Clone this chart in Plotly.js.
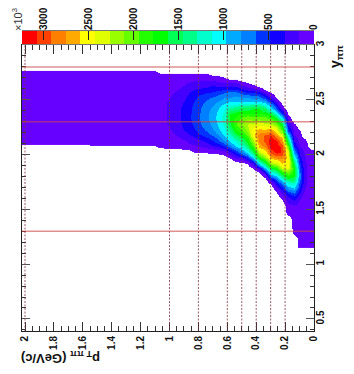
<!DOCTYPE html>
<html>
<head>
<meta charset="utf-8">
<script src="https://cdn.plot.ly/plotly-3.0.1.min.js"></script>
<style>html,body{margin:0;padding:0;background:#fff}</style>
</head>
<body>
<div id="chart" style="width:354px;height:374px"></div>
<script>
// counts per pT bin (0.04 wide, starting at 0), each list runs over y from 1.175 to 2.775
const o = -150; // empty bin
const countsByPt = [
  [80,80,80,80,80,80,80,80,80,80,80,80,80,80,80,80,80,80,-100,o,o,o,o,o,o,o,o,o,o,o,o,o,o],
  [80,80,80,80,80,80,80,80,80,80,130,180,200,200,190,180,170,130,100,60,-120,o,o,o,o,o,o,o,o,o,o,o,o],
  [80,80,80,80,80,80,80,100,140,250,400,560,700,720,640,520,400,280,170,110,80,10,o,o,o,o,o,o,o,o,o,o,o],
  [o,o,20,80,80,80,80,110,300,520,800,1150,1500,1700,1750,1500,1150,800,500,300,170,100,60,o,o,o,o,o,o,o,o,o,o],
  [o,o,o,o,o,-60,80,100,200,350,700,1050,1500,1950,2400,2550,2500,2350,2000,1500,1050,550,320,170,-40,o,o,o,o,o,o,o,o],
  [o,o,o,o,o,o,o,o,-20,100,280,600,1050,1650,2300,2600,2800,3050,3050,2750,2450,1950,1650,1150,550,100,-60,o,o,o,o,o,o],
  [o,o,o,o,o,o,o,o,o,-80,40,300,650,1150,1750,2350,2800,3150,3200,3100,2750,2450,2050,1700,1100,600,220,-60,o,o,o,o,o],
  [o,o,o,o,o,o,o,o,o,o,o,-30,300,1000,1550,2250,2650,3000,3180,3200,3080,2700,2300,1950,1550,1000,600,200,-60,o,o,o,o],
  [o,o,o,o,o,o,o,o,o,o,o,o,-100,200,900,1550,2150,2500,2800,2950,2950,2620,2350,2050,1750,1400,950,500,80,o,o,o,o],
  [o,o,o,o,o,o,o,o,o,o,o,o,o,-80,200,1100,1800,2300,2650,2800,2850,2650,2400,2050,1800,1600,1050,700,350,-60,o,o,o],
  [o,o,o,o,o,o,o,o,o,o,o,o,o,o,-10,300,1000,1500,1900,2200,2500,2500,2350,2050,1750,1600,1050,750,400,60,o,o,o],
  [o,o,o,o,o,o,o,o,o,o,o,o,o,o,o,30,500,1050,1450,1700,1950,2200,2280,2100,1800,1500,1050,780,420,100,-80,o,o],
  [o,o,o,o,o,o,o,o,o,o,o,o,o,o,o,-20,280,800,1150,1450,1700,1950,2100,2000,1800,1500,1020,800,500,200,-30,o,o],
  [o,o,o,o,o,o,o,o,o,o,o,o,o,o,o,-60,200,500,950,1200,1500,1800,1950,1850,1700,1400,1000,850,650,300,40,o,o],
  [o,o,o,o,o,o,o,o,o,o,o,o,o,o,o,o,20,300,700,1000,1200,1400,1600,1650,1620,1300,1000,800,650,300,40,o,o],
  [o,o,o,o,o,o,o,o,o,o,o,o,o,o,o,o,-80,100,480,800,1000,1120,1200,1250,1200,1100,950,800,600,300,80,-50,o],
  [o,o,o,o,o,o,o,o,o,o,o,o,o,o,o,o,-120,60,350,620,820,960,1020,1050,1040,980,870,720,540,300,110,-20,o],
  [o,o,o,o,o,o,o,o,o,o,o,o,o,o,o,o,-130,40,280,480,660,800,860,900,900,850,760,650,480,340,170,-10,o],
  [o,o,o,o,o,o,o,o,o,o,o,o,o,o,o,o,o,30,210,370,560,680,750,780,780,740,680,620,440,300,170,40,o],
  [o,o,o,o,o,o,o,o,o,o,o,o,o,o,o,o,o,20,170,300,470,590,650,670,670,650,620,540,410,280,170,50,o],
  [o,o,o,o,o,o,o,o,o,o,o,o,o,o,o,o,o,30,130,240,380,490,540,570,570,560,520,470,380,260,160,50,o],
  [o,o,o,o,o,o,o,o,o,o,o,o,o,o,o,o,o,-50,110,200,310,400,450,470,470,460,440,390,320,220,140,50,o],
  [o,o,o,o,o,o,o,o,o,o,o,o,o,o,o,o,o,-80,90,140,230,330,370,380,380,370,340,280,230,170,120,50,o],
  [o,o,o,o,o,o,o,o,o,o,o,o,o,o,o,o,o,-100,80,110,170,230,270,290,290,280,250,220,180,130,90,50,o],
  [o,o,o,o,o,o,o,o,o,o,o,o,o,o,o,o,o,-110,70,90,130,170,210,220,220,220,210,180,140,100,80,50,o],
  [o,o,o,o,o,o,o,o,o,o,o,o,o,o,o,o,o,-120,60,80,110,140,160,170,170,170,165,140,100,80,80,40,o],
  [o,o,o,o,o,o,o,o,o,o,o,o,o,o,o,o,o,-130,50,100,100,100,100,100,100,100,100,100,100,100,100,30,-100]
];
const plateauNear = [o,o,o,o,o,o,o,o,o,o,o,o,o,o,o,o,o,o,-14,80,80,80,80,80,80,80,80,80,80,80,80,80,-30];
const plateauFar = [o,o,o,o,o,o,o,o,o,o,o,o,o,o,o,o,o,o,-80,80,80,80,80,80,80,80,80,80,80,80,80,80,-30];
for (let i = 0; i < 12; i++) countsByPt.push(plateauNear);
for (let i = 0; i < 12; i++) countsByPt.push(plateauFar);

const paletteLevels = [81,243,405,567,729,891,1053,1215,1377,1539,1701,1863,2025,2187,2349,2511,2673,2835,2997,3159];
const paletteColors = ['#6600ff','#4400ff','#1100ff','#0033ff','#0080ff','#00aaff','#00ffff','#00ffcc','#00ff88','#00ff55',
  '#00ff00','#22ff00','#66ff00','#99ff00','#e0ff00','#ffff00','#ffaa00','#ff8000','#ff4000','#ff0000'];
const paletteTicks = [0,500,1000,1500,2000,2500,3000];
const ptTicks = [0,0.2,0.4,0.6,0.8,1,1.2,1.4,1.6,1.8,2];
const yTicks = [0.5,1,1.5,2,2.5,3];
const ptCuts = [0.2,0.3,0.4,0.5,0.6,0.8,1,2];
const yCuts = [1.3,2.3,2.8];

const zMin = -162, zMax = 3240;

// discrete scale, lowest band (below zero) is the empty white background
let colorscale = [];
['#ffffff'].concat(paletteColors).forEach(function(c, i) {
  colorscale.push([i / 21, c]);
  colorscale.push([(i + 1) / 21, c]);
});

const textFont = {family: 'Liberation Sans, Arial, sans-serif', size: 10, color: '#111', weight: 'bold'};

const data = [{
  type: 'heatmap',
  z: countsByPt,
  transpose: true,
  x0: 0.02, dx: 0.04,
  y0: 1.175, dy: 0.05,
  zmin: zMin, zmax: zMax,
  zsmooth: 'best',
  colorscale: colorscale,
  showscale: false,
  hoverinfo: 'skip'
}, {
  type: 'heatmap',
  x: paletteLevels,
  y: [0],
  z: [paletteLevels],
  zmin: zMin, zmax: zMax,
  colorscale: colorscale,
  showscale: false,
  xaxis: 'x2', yaxis: 'y2',
  hoverinfo: 'skip'
}];

let shapes = [];
ptCuts.forEach(function(v) {
  shapes.push({type: 'line', xref: 'x', yref: 'y domain', x0: v, x1: v, y0: 0, y1: 1,
    line: {color: 'rgba(125,50,65,0.8)', width: 1, dash: '2px,1.5px'}});
});
yCuts.forEach(function(v) {
  shapes.push({type: 'line', xref: 'x domain', yref: 'y', x0: 0, x1: 1, y0: v, y1: v,
    line: {color: 'rgba(205,70,70,0.6)', width: 1.5}});
});

const layout = {
  width: 354, height: 374,
  margin: {l: 22, r: 40, t: 31, b: 43, pad: 0},
  paper_bgcolor: '#fff', plot_bgcolor: '#fff',
  showlegend: false,
  xaxis: {
    domain: [0, 1], range: [2.0208, 0], anchor: 'y',
    tickmode: 'array', tickvals: ptTicks, ticktext: ptTicks.map(String),
    tickangle: -90, ticks: 'inside', ticklen: 9, tickwidth: 1, tickcolor: '#333',
    minor: {dtick: 0.05, ticks: 'inside', ticklen: 5, tickwidth: 1, tickcolor: '#333', showgrid: false},
    showline: true, linecolor: '#222', linewidth: 1, mirror: 'ticks',
    showgrid: false, zeroline: false, tickfont: textFont
  },
  yaxis: {
    domain: [0, 0.9533], range: [0.39, 3], anchor: 'x', side: 'right',
    tickmode: 'array', tickvals: yTicks, ticktext: yTicks.map(String),
    tickangle: -90, ticks: 'inside', ticklen: 8, tickwidth: 1, tickcolor: '#555',
    minor: {dtick: 0.1, ticks: 'inside', ticklen: 4, tickwidth: 1, tickcolor: '#333', showgrid: false},
    showline: true, linecolor: '#222', linewidth: 1, mirror: 'ticks',
    showgrid: false, zeroline: false, tickfont: textFont, ticklabelstandoff: -3
  },
  xaxis2: {
    domain: [0, 1], range: [3240, 0], anchor: 'y2', side: 'top',
    tickmode: 'array', tickvals: paletteTicks, ticktext: paletteTicks.map(String),
    tickangle: -90, ticks: 'inside', ticklen: 9, tickwidth: 1, tickcolor: '#222',
    showline: true, linecolor: '#777', linewidth: 1, mirror: true,
    showgrid: false, zeroline: false, tickfont: textFont, ticklabelstandoff: -2
  },
  yaxis2: {
    domain: [0.9567, 1], anchor: 'x2', range: [-0.5, 0.5],
    showticklabels: false, ticks: '', showgrid: false, zeroline: false
  },
  shapes: shapes,
  annotations: [{
    text: '<b>p<sub>T ππ</sub> (GeV/c)</b>', textangle: 180, showarrow: false,
    xref: 'paper', yref: 'paper', xanchor: 'center', yanchor: 'middle',
    x: (61 - 22) / 292, y: (331 - 358) / 300,
    font: {family: 'Liberation Sans, Arial, sans-serif', size: 13, color: '#111'}
  }, {
    text: '<b>y<sub>ππ</sub></b>', textangle: -90, showarrow: false,
    xref: 'paper', yref: 'paper', xanchor: 'center', yanchor: 'middle',
    x: (336 - 22) / 292, y: (331 - 57) / 300,
    font: {family: 'Liberation Sans, Arial, sans-serif', size: 14, color: '#111'}
  }, {
    text: '×10<sup>3</sup>', textangle: -90, showarrow: false,
    xref: 'paper', yref: 'paper', xanchor: 'center', yanchor: 'middle',
    x: (17 - 22) / 292, y: (331 - 20) / 300,
    font: {family: 'Liberation Sans, Arial, sans-serif', size: 11, color: '#333'}
  }]
};

Plotly.newPlot('chart', data, layout, {displayModeBar: false, staticPlot: true});
</script>
</body>
</html>
